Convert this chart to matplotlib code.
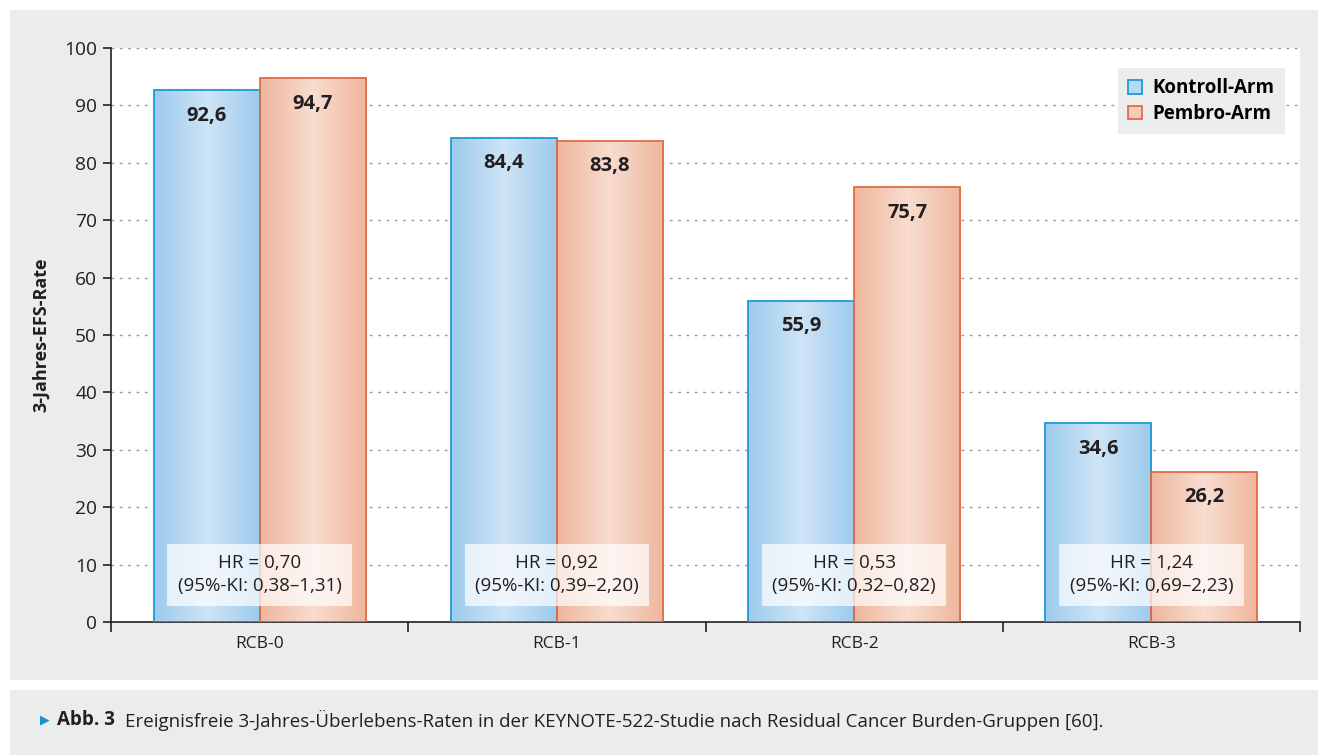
import numpy as np
import matplotlib
matplotlib.use("Agg")
import matplotlib.pyplot as plt
from matplotlib.patches import Rectangle
from matplotlib.colors import LinearSegmentedColormap

plt.rcParams['font.family'] = ['Open Sans', 'DejaVu Sans']

categories = ["RCB-0", "RCB-1", "RCB-2", "RCB-3"]
kontroll = [92.6, 84.4, 55.9, 34.6]
pembro = [94.7, 83.8, 75.7, 26.2]
hr_labels = ["HR = 0,70\n(95%-KI: 0,38–1,31)",
             "HR = 0,92\n(95%-KI: 0,39–2,20)",
             "HR = 0,53\n(95%-KI: 0,32–0,82)",
             "HR = 1,24\n(95%-KI: 0,69–2,23)"]
series_names = ["Kontroll-Arm", "Pembro-Arm"]
yticks = [0, 10, 20, 30, 40, 50, 60, 70, 80, 90, 100]

W, H = 1319, 755
fig = plt.figure(figsize=(W / 100, H / 100), dpi=100)
fig.patch.set_facecolor("white")
panel = "#ebecec"
fig.add_artist(Rectangle((10 / W, 1 - 680 / H), (1318 - 10) / W, (680 - 10) / H,
                         transform=fig.transFigure, facecolor=panel, edgecolor="none", zorder=0))
fig.add_artist(Rectangle((10 / W, 0), (1318 - 10) / W, (755 - 690) / H,
                         transform=fig.transFigure, facecolor=panel, edgecolor="none", zorder=0))

ax = fig.add_axes([111 / W, 1 - 622 / H, (1300 - 111) / W, (622 - 48) / H])
ax.set_facecolor("white")
ax.set_xlim(-0.5, 3.5)
ax.set_ylim(0, 100)

x = np.arange(len(categories))
bw = 0.357

blue_cmap = LinearSegmentedColormap.from_list("b", ["#9ccbed", "#cfe4f6", "#9ccbed"])
red_cmap = LinearSegmentedColormap.from_list("r", ["#efb69c", "#f8ddd0", "#efb69c"])
grad = np.linspace(0, 1, 256).reshape(1, -1)

def gradient_bars(bars, cmap, edge):
    for b in bars:
        x0, w, h = b.get_x(), b.get_width(), b.get_height()
        im = ax.imshow(grad, extent=(x0, x0 + w, 0, h), aspect="auto", cmap=cmap,
                       zorder=2, interpolation="bicubic")
        im.set_clip_path(b)
        ax.add_patch(Rectangle((x0, 0), w, h, facecolor="none", edgecolor=edge,
                               linewidth=1.3, zorder=3))

b1 = ax.bar(x - bw / 2, kontroll, bw, color="none", edgecolor="none", zorder=2)
b2 = ax.bar(x + bw / 2, pembro, bw, color="none", edgecolor="none", zorder=2)
gradient_bars(b1, blue_cmap, "#1f98d5")
gradient_bars(b2, red_cmap, "#e06c48")

for xi, v in zip(x - bw / 2, kontroll):
    ax.text(xi, v - 4.4, f"{v:.1f}".replace(".", ","), ha="center", va="center",
            fontsize=14.5, fontweight="bold", color="#231f20", zorder=5)
for xi, v in zip(x + bw / 2, pembro):
    ax.text(xi, v - 4.4, f"{v:.1f}".replace(".", ","), ha="center", va="center",
            fontsize=14.5, fontweight="bold", color="#231f20", zorder=5)

for xi, lab in zip(x, hr_labels):
    ax.add_patch(Rectangle((xi - 0.31, 2.8), 0.62, 10.8, facecolor="white",
                           edgecolor="none", alpha=0.7, zorder=4))
    ax.text(xi, 8.2, lab, ha="center", va="center", fontsize=13.5, color="#231f20",
            linespacing=1.35, zorder=5)

ax.set_yticks(yticks)
ax.set_yticklabels([str(t) for t in yticks], fontsize=13.8, color="#231f20")
ax.yaxis.grid(True, linestyle=(0, (2, 4)), color="#9a9a9a", linewidth=1.0, zorder=1)
ax.set_axisbelow(True)
ax.set_xticks(np.arange(-0.5, 4, 1.0))
ax.set_xticklabels([])
ax.set_xticks(x, minor=True)
ax.set_xticklabels(categories, minor=True, fontsize=12.5, color="#231f20")
ax.tick_params(axis="x", which="minor", length=0, pad=10)
ax.tick_params(axis="x", which="major", length=7, width=1.2, color="#231f20", direction="out")
ax.tick_params(axis="y", length=6, width=1.2, color="#231f20", pad=4)
for s in ["top", "right"]:
    ax.spines[s].set_visible(False)
for s in ["left", "bottom"]:
    ax.spines[s].set_color("#231f20")
    ax.spines[s].set_linewidth(1.2)
ax.set_ylabel("3-Jahres-EFS-Rate", fontsize=13, fontweight="bold", color="#231f20", labelpad=10)

h1 = Rectangle((0, 0), 1, 1, facecolor="#b8d9f3", edgecolor="#1f98d5", linewidth=1.3)
h2 = Rectangle((0, 0), 1, 1, facecolor="#f4cbb8", edgecolor="#e06c48", linewidth=1.3)
leg = ax.legend([h1, h2], series_names, loc="upper right", bbox_to_anchor=(0.9874, 0.965),
                borderaxespad=0, frameon=True, fancybox=False, handlelength=0.75,
                handleheight=0.75, handletextpad=0.55, borderpad=0.55, labelspacing=0.3,
                prop={"weight": "bold", "size": 13.5})
leg.get_frame().set_facecolor(panel)
leg.get_frame().set_edgecolor("none")
leg.get_frame().set_alpha(1)
leg.set_zorder(6)

yc = 1 - 720 / H
fig.text(40 / W, yc, "▶", color="#1a8fd0", fontsize=9, va="center", ha="left",
         family=["DejaVu Sans"])
fig.text(57 / W, yc, "Abb. 3", fontweight="bold", fontsize=13.5, va="center", ha="left",
         color="#231f20")
fig.text(125 / W, yc, "Ereignisfreie 3-Jahres-Überlebens-Raten in der KEYNOTE-522-Studie nach Residual Cancer Burden-Gruppen [60].",
         fontsize=13.5, va="center", ha="left", color="#231f20")

fig.savefig("out.png", dpi=100, facecolor=fig.get_facecolor())
